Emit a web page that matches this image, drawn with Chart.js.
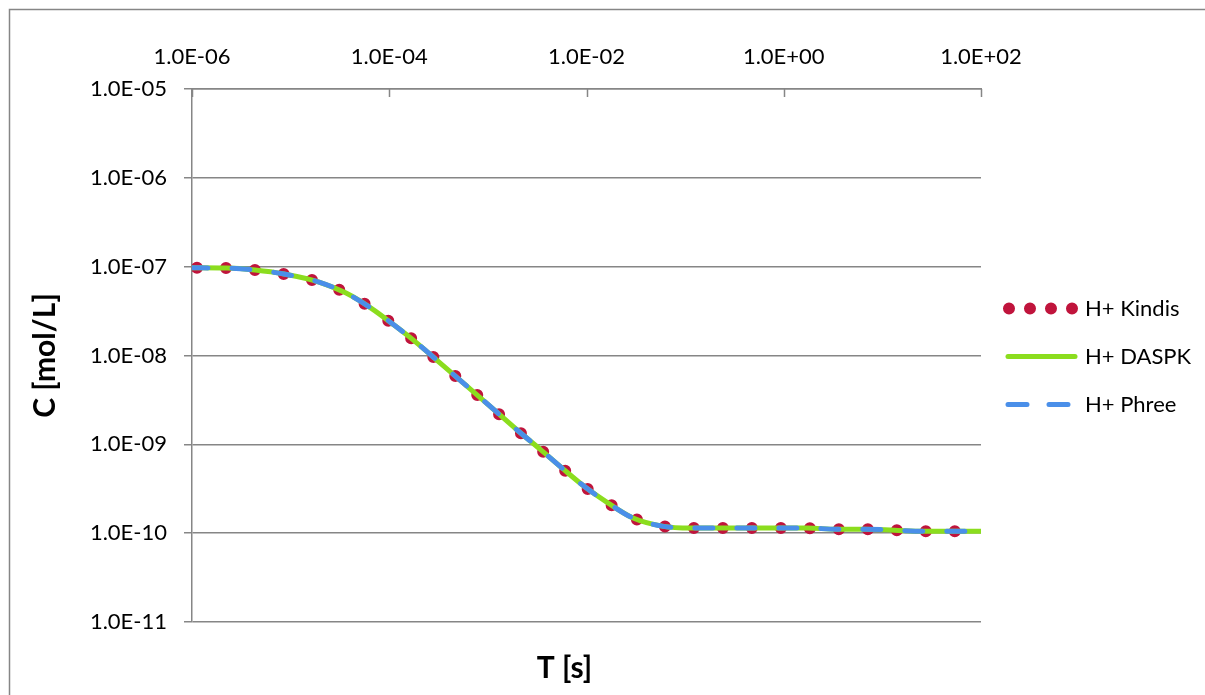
<!DOCTYPE html>
<html>
<head>
<meta charset="utf-8">
<script src="https://cdn.jsdelivr.net/npm/chart.js@4.4.1/dist/chart.umd.min.js"></script>
<style>
  html, body { margin: 0; padding: 0; background: #fff; overflow: hidden; }
  #c { position: absolute; left: 0; top: 0; }
</style>
</head>
<body>
<canvas id="c" width="1205" height="695"></canvas>
<script>
// values (time in s, concentration in mol/L)
const timeS = [1.0e-6, 2.26e-6, 4.36e-6, 8.57e-6, 1.94e-5, 3.65e-5, 6.53e-5, 1.12e-4, 1.91e-4, 3.20e-4,
  5.35e-4, 8.93e-4, 1.98e-3, 3.38e-3, 5.66e-3, 9.68e-3, 1.66e-2, 2.97e-2, 5.85e-2, 0.115,
  0.226, 0.446, 0.877, 1.73, 3.40, 6.70, 13.2, 25.9, 51.1, 100];
const kindis = [9.70e-8, 9.64e-8, 9.16e-8, 8.26e-8, 6.71e-8, 5.04e-8, 3.42e-8, 2.20e-8, 1.38e-8, 8.43e-9,
  5.15e-9, 3.15e-9, 1.45e-9, 8.83e-10, 5.40e-10, 3.30e-10, 2.18e-10, 1.48e-10, 1.20e-10, 1.14e-10,
  1.14e-10, 1.14e-10, 1.14e-10, 1.14e-10, 1.11e-10, 1.11e-10, 1.08e-10, 1.05e-10, 1.05e-10, 1.05e-10];
const daspk = [9.70e-8, 9.64e-8, 9.16e-8, 8.26e-8, 6.71e-8, 5.04e-8, 3.42e-8, 2.20e-8, 1.38e-8, 8.43e-9,
  5.15e-9, 3.15e-9, 1.45e-9, 8.83e-10, 5.40e-10, 3.30e-10, 2.18e-10, 1.48e-10, 1.20e-10, 1.14e-10,
  1.14e-10, 1.14e-10, 1.14e-10, 1.14e-10, 1.11e-10, 1.11e-10, 1.08e-10, 1.05e-10, 1.05e-10, 1.05e-10];
const phree = [9.70e-8, 9.64e-8, 9.16e-8, 8.26e-8, 6.71e-8, 5.04e-8, 3.42e-8, 2.20e-8, 1.38e-8, 8.43e-9,
  5.15e-9, 3.15e-9, 1.45e-9, 8.83e-10, 5.40e-10, 3.30e-10, 2.18e-10, 1.48e-10, 1.20e-10, 1.14e-10,
  1.14e-10, 1.14e-10, 1.14e-10, 1.14e-10, 1.11e-10, 1.11e-10, 1.08e-10, 1.05e-10, 1.05e-10, 1.05e-10];

const xTicks = [1e-6, 1e-4, 1e-2, 1e0, 1e2];
const yTicks = [1e-11, 1e-10, 1e-9, 1e-8, 1e-7, 1e-6, 1e-5];
const seriesNames = ["H+ Kindis", "H+ DASPK", "H+ Phree"];

const FONT = "Lato, 'Open Sans', sans-serif";
const GRID = "#868686";

function pts(ys) {
  return timeS.map((t, i) => ({ x: t, y: ys[i] }));
}

// 1.0E-06 style labels
function sci(v) {
  const e = Math.round(Math.log10(v));
  return "1.0E" + (e < 0 ? "-" : "+") + String(Math.abs(e)).padStart(2, "0");
}

// outer frame (only left and top edges are in view)
const frame = {
  id: "frame",
  beforeDraw(chart) {
    const ctx = chart.ctx;
    ctx.save();
    ctx.strokeStyle = GRID;
    ctx.lineWidth = 1.5;
    ctx.beginPath();
    ctx.moveTo(9.5, chart.height);
    ctx.lineTo(9.5, 9.5);
    ctx.lineTo(chart.width, 9.5);
    ctx.stroke();
    ctx.restore();
  }
};

// inward ticks on top axis, legend, bottom title
const decor = {
  id: "decor",
  afterDraw(chart) {
    const ctx = chart.ctx;
    const a = chart.chartArea;
    const xs = chart.scales.x;
    ctx.save();
    ctx.strokeStyle = GRID;
    ctx.lineWidth = 1.5;
    xTicks.forEach(v => {
      const px = Math.round(xs.getPixelForValue(v)) + 0.5;
      ctx.beginPath();
      ctx.moveTo(px, a.top);
      ctx.lineTo(px, a.top + 8);
      ctx.stroke();
    });

    // legend
    const cy = (a.top + a.bottom) / 2;
    const x0 = a.right + 25;
    chart.data.datasets.forEach((ds, i) => {
      const y = Math.round(cy + (i - 1) * 48) + 0.5;
      ctx.save();
      ctx.strokeStyle = ds.borderColor;
      ctx.lineCap = "round";
      ctx.lineWidth = ds.borderWidth;
      if (i == 0) {
        ctx.setLineDash([0, 21]);
        ctx.beginPath();
        ctx.moveTo(x0 + 3, y);
        ctx.lineTo(x0 + 68, y);
        ctx.stroke();
      } else if (i == 1) {
        ctx.beginPath();
        ctx.moveTo(x0 + 2, y);
        ctx.lineTo(x0 + 69, y);
        ctx.stroke();
      } else {
        ctx.setLineDash([19, 22]);
        ctx.beginPath();
        ctx.moveTo(x0 + 2, y);
        ctx.lineTo(x0 + 69, y);
        ctx.stroke();
      }
      ctx.restore();
      ctx.fillStyle = "#000";
      ctx.font = "22px " + FONT;
      ctx.textBaseline = "middle";
      ctx.fillText(ds.label, x0 + 79, y);
    });

    // x axis title
    ctx.fillStyle = "#000";
    ctx.font = "bold 30px " + FONT;
    ctx.textAlign = "center";
    ctx.textBaseline = "middle";
    ctx.fillText("T [s]", (a.left + a.right) / 2 - 22, a.bottom + 46);
    ctx.restore();
  }
};

new Chart(document.getElementById("c"), {
  type: "scatter",
  data: {
    datasets: [
      {
        label: seriesNames[0],
        data: pts(kindis),
        showLine: true,
        borderColor: "#C0143C",
        borderWidth: 12,
        borderDash: [0, 29],
        borderDashOffset: 24,
        borderCapStyle: "round",
        cubicInterpolationMode: "monotone",
        pointRadius: 0,
        order: 3
      },
      {
        label: seriesNames[1],
        data: pts(daspk),
        showLine: true,
        borderColor: "#8BDD1E",
        borderWidth: 5,
        borderCapStyle: "round",
        cubicInterpolationMode: "monotone",
        pointRadius: 0,
        order: 2
      },
      {
        label: seriesNames[2],
        data: pts(phree),
        showLine: true,
        borderColor: "#4A8FE9",
        borderWidth: 5,
        borderDash: [18, 24],
        borderDashOffset: 2,
        borderCapStyle: "round",
        cubicInterpolationMode: "monotone",
        pointRadius: 0,
        order: 1
      }
    ]
  },
  options: {
    responsive: false,
    animation: false,
    layout: { padding: { left: 15, top: 20, right: 224, bottom: 73 } },
    plugins: {
      legend: { display: false },
      tooltip: { enabled: false }
    },
    scales: {
      x: {
        type: "logarithmic",
        position: "top",
        min: 1e-6,
        max: 1e2,
        afterBuildTicks: s => { s.ticks = xTicks.map(v => ({ value: v })); },
        afterFit: s => { s.height = 69; },
        grid: { display: true, drawOnChartArea: false, drawTicks: false, color: GRID },
        border: { display: true, color: GRID, width: 1.5 },
        ticks: {
          color: "#000",
          font: { family: FONT, size: 22 },
          padding: 19,
          maxRotation: 0,
          autoSkip: false,
          callback: v => sci(v)
        }
      },
      y: {
        type: "logarithmic",
        min: 1e-11,
        max: 1e-5,
        afterBuildTicks: s => { s.ticks = yTicks.map(v => ({ value: v })); },
        afterFit: s => { s.width = 177; },
        grid: { color: GRID, lineWidth: 1.5, tickLength: 8 },
        border: { display: true, color: GRID, width: 1.5 },
        title: {
          display: true,
          text: "C [mol/L]",
          color: "#000",
          font: { family: FONT, size: 30, weight: "bold" },
          padding: { top: 12, bottom: 0 }
        },
        ticks: {
          color: "#000",
          font: { family: FONT, size: 22 },
          padding: 17,
          autoSkip: false,
          callback: v => sci(v)
        }
      }
    }
  },
  plugins: [frame, decor]
});
</script>
</body>
</html>
